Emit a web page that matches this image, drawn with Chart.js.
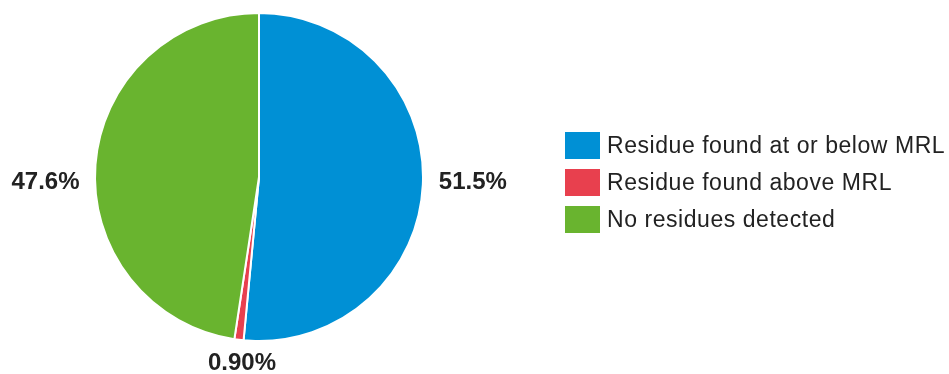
<!DOCTYPE html>
<html>
<head>
<meta charset="utf-8">
<script src="https://cdn.jsdelivr.net/npm/chart.js@4"></script>
<style>
  body { margin: 0; background: #fff; }
  #wrap { position: relative; width: 949px; height: 374px; }
  #legend { position: absolute; left: 565px; top: 132px; font-family: "Liberation Sans", Arial, sans-serif; font-size: 23px; letter-spacing: 0.55px; color: #222; }
  .item { display: flex; align-items: center; height: 27px; margin-bottom: 10px; }
  .box { width: 35px; height: 27px; margin-right: 7px; }
</style>
</head>
<body>
<div id="wrap">
  <canvas id="myChart" width="949" height="374"></canvas>
  <div id="legend"></div>
</div>
<script>
var labelsForChart = ["Residue found at or below MRL", "Residue found above MRL", "No residues detected"];
var valuesForChart = [51.5, 0.90, 47.6];
var valueText = ["51.5%", "0.90%", "47.6%"];
var colorsForChart = ["#0090d5", "#e8404e", "#69b42f"];

// percentage labels sitting just outside the pie
var outsideLabels = {
  id: 'outsideLabels',
  afterDatasetsDraw: function(chart){
    var c = chart.ctx;
    var arcs = chart.getDatasetMeta(0).data;
    c.save();
    c.font = 'bold 24px "Liberation Sans", Arial, sans-serif';
    c.fillStyle = '#222';
    arcs.forEach(function(arc, i){
      var mid = (arc.startAngle + arc.endAngle) / 2;
      var cos = Math.cos(mid), sin = Math.sin(mid);
      var x, y;
      if (sin > 0.7) {
        // bottom label, under the slice
        c.textAlign = 'center';
        c.textBaseline = 'top';
        x = arc.x + arc.outerRadius * 0.85 * cos;
        y = arc.y + arc.outerRadius + 10;
      } else {
        c.textAlign = cos > 0 ? 'left' : 'right';
        c.textBaseline = 'middle';
        x = arc.x + (arc.outerRadius + 16) * cos;
        y = arc.y + 5;
      }
      c.fillText(valueText[i], x, y);
    });
    c.restore();
  }
};

var ctx = document.getElementById("myChart");
var chart = new Chart(ctx, {
  type: 'pie',
  data: {
    labels: labelsForChart,
    datasets: [{
      data: valuesForChart,
      backgroundColor: colorsForChart,
      borderColor: '#fff',
      borderWidth: 2
    }]
  },
  options: {
    responsive: false,
    animation: false,
    layout: { padding: { left: 94, right: 525, top: 12, bottom: 32 } },
    plugins: {
      legend: { display: false },
      tooltip: { enabled: false }
    }
  },
  plugins: [outsideLabels]
});

var legendDiv = document.getElementById("legend");
labelsForChart.forEach(function(label, i){
  var row = document.createElement("div");
  row.className = "item";
  var box = document.createElement("div");
  box.className = "box";
  box.style.background = colorsForChart[i];
  var txt = document.createElement("span");
  txt.textContent = label;
  row.appendChild(box);
  row.appendChild(txt);
  legendDiv.appendChild(row);
});
</script>
</body>
</html>
